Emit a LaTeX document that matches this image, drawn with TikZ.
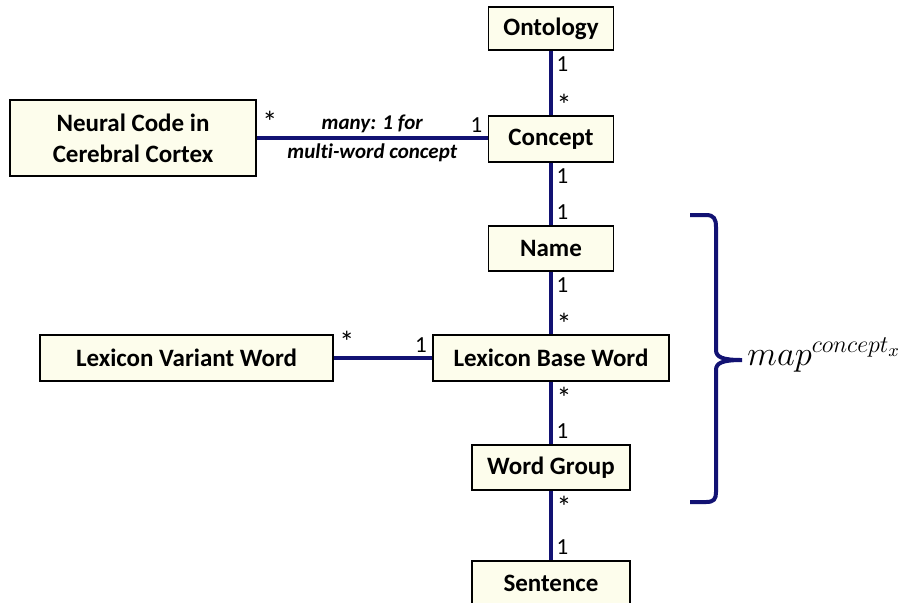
\documentclass[tikz,border=0pt]{standalone}
\usepackage{fontspec}
\setmainfont{Carlito}[Ligatures={NoCommon}]
\definecolor{boxfill}{RGB}{253,253,236}
\definecolor{linkblue}{RGB}{18,18,115}
\newcommand{\many}{{\fontsize{15}{15}\selectfont *}}
\begin{document}
\begin{tikzpicture}[x=0.5pt,y=-0.5pt,
  box/.style={draw=black, line width=0.7pt, fill=boxfill, inner sep=0pt, align=center,
    font=\fontsize{12.5}{15.5}\selectfont\bfseries},
  link/.style={draw=linkblue, line width=1.6pt},
  mult/.style={font=\fontsize{11.5}{13}\selectfont, inner sep=2pt},
  role/.style={font=\fontsize{10.5}{12}\selectfont\bfseries\itshape, inner sep=2pt}]
\useasboundingbox (0,0) rectangle (924,602);

% classes
\node[box, minimum width=62.5pt, minimum height=21.5pt] (ont)     at (551,28.5)  {Ontology};
\node[box, minimum width=62.5pt, minimum height=23pt]   (con)     at (551,139)   {Concept};
\node[box, minimum width=62.5pt, minimum height=22.5pt] (name)    at (551,248.5) {Name};
\node[box, minimum width=118pt,  minimum height=23pt]   (base)    at (551,358)   {Lexicon Base Word};
\node[box, minimum width=79pt,   minimum height=22.5pt] (group)   at (551,467.5) {Word Group};
\node[box, minimum width=79pt,   minimum height=22.5pt] (sent)    at (551,583.5) {Sentence};
\node[box, minimum width=146.5pt,minimum height=23pt]   (variant) at (186.5,358) {Lexicon Variant Word};
\node[box, minimum width=123pt,  minimum height=38pt]   (neural)  at (133,138)   {Neural Code in\\Cerebral Cortex};

% vertical associations with multiplicities
\draw[link] (ont.south) -- (con.north)
  node[mult, pos=0, anchor=north west] {1}
  node[mult, pos=1, anchor=south west, yshift=-3pt] {\many};
\draw[link] (con.south) -- (name.north)
  node[mult, pos=0, anchor=north west] {1}
  node[mult, pos=1, anchor=south west] {1};
\draw[link] (name.south) -- (base.north)
  node[mult, pos=0, anchor=north west] {1}
  node[mult, pos=1, anchor=south west, yshift=-3pt] {\many};
\draw[link] (base.south) -- (group.north)
  node[mult, pos=0, anchor=north west] {\many}
  node[mult, pos=1, anchor=south west] {1};
\draw[link] (group.south) -- (sent.north)
  node[mult, pos=0, anchor=north west] {\many}
  node[mult, pos=1, anchor=south west] {1};

% horizontal associations
\draw[link] (neural.east) -- (neural.east -| con.west)
  node[mult, pos=0, anchor=south west] {\many}
  node[mult, pos=1, anchor=south east] {1}
  node[role, midway, anchor=south] {many: 1 for}
  node[role, midway, anchor=north] {multi-word concept};
\draw[link] (variant.east) -- (base.west)
  node[mult, pos=0, anchor=south west] {\many}
  node[mult, pos=1, anchor=south east] {1};

% brace grouping the lexical classes
\draw[linkblue, line width=2pt]
  (690,215) -- (706,215) .. controls (714,215) and (716,219) .. (716,227)
  -- (716,350) .. controls (716,357) and (722,360) .. (742,360)
  .. controls (722,360) and (716,363) .. (716,370)
  -- (716,492) .. controls (716,499) and (714,502) .. (706,502) -- (690,502);
\node[anchor=base west, inner sep=0pt, font=\fontsize{18.5}{21}\selectfont] (maplabel) at (747,365) {$map^{concept_x}$};
\end{tikzpicture}
\end{document}
